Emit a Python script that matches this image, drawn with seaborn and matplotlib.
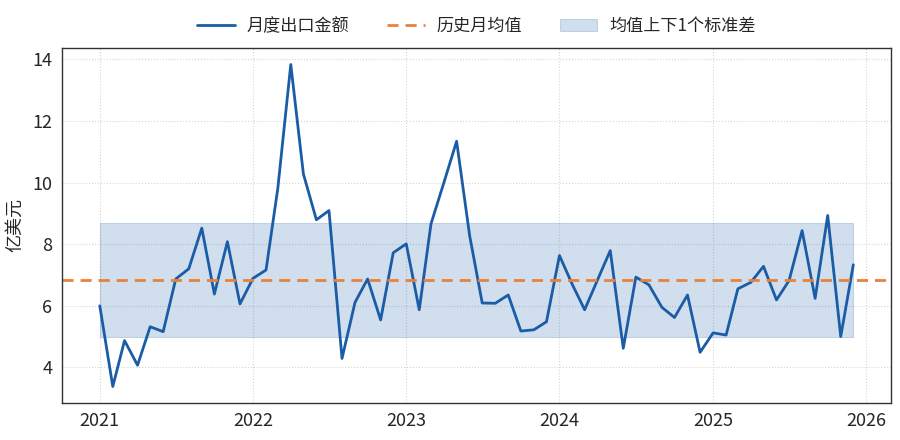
import numpy as np
import pandas as pd
import matplotlib
matplotlib.use("Agg")
import matplotlib.pyplot as plt
import matplotlib.dates as mdates
import seaborn as sns

months = pd.date_range("2021-01-01", "2025-12-01", freq="MS")
export_values = [
    6.00, 3.38, 4.87, 4.07, 5.32, 5.16, 6.87, 7.20, 8.52, 6.38, 8.08, 6.06,
    6.89, 7.16, 9.80, 13.83, 10.28, 8.79, 9.09, 4.29, 6.11, 6.87, 5.54, 7.72,
    8.01, 5.87, 8.66, 10.01, 11.34, 8.28, 6.09, 6.08, 6.35, 5.18, 5.22, 5.48,
    7.63, 6.68, 5.87, 6.85, 7.79, 4.62, 6.93, 6.68, 5.95, 5.62, 6.35, 4.49,
    5.12, 5.05, 6.55, 6.76, 7.28, 6.19, 6.82, 8.44, 6.24, 8.93, 5.00, 7.33,
]
label_line = "月度出口金额"
label_mean = "历史月均值"
label_band = "均值上下1个标准差"
y_label = "亿美元"

df = pd.DataFrame({"month": months, "value": export_values})
mean_v = float(np.mean(export_values))
std_v = float(np.std(export_values))

sns.set_theme(style="white")
plt.rcParams["font.family"] = ["Noto Sans CJK SC", "DejaVu Sans"]
plt.rcParams["axes.unicode_minus"] = False

line_color = "#1a5ca6"
mean_color = "#e8823a"

fig, ax = plt.subplots(figsize=(9, 4.4), dpi=100)
band = ax.fill_between(df["month"], mean_v - std_v, mean_v + std_v,
                       color=line_color, alpha=0.2, linewidth=0.8,
                       edgecolor=line_color, label=label_band)
sns.lineplot(data=df, x="month", y="value", ax=ax, color=line_color,
             linewidth=2, label=label_line)
ax.axhline(mean_v, color=mean_color, linestyle=(0, (4, 2.5)), linewidth=2,
           label=label_mean)

ax.xaxis.set_major_locator(mdates.YearLocator())
ax.xaxis.set_major_formatter(mdates.DateFormatter("%Y"))
ax.set_yticks([4, 6, 8, 10, 12, 14])
ax.tick_params(axis="both", labelsize=13, length=4, color="#333333", pad=3)
ax.set_xlabel("")
ax.set_ylabel(y_label, fontsize=13, labelpad=6)
ax.grid(True, linestyle=":", color="#d5d5d5", linewidth=0.8)
for s in ax.spines.values():
    s.set_color("#333333")
    s.set_linewidth(1.0)

handles, labels = ax.get_legend_handles_labels()
order = [labels.index(label_line), labels.index(label_mean), labels.index(label_band)]
ax.legend([handles[i] for i in order], [labels[i] for i in order],
          loc="lower center", bbox_to_anchor=(0.5, 0.995), ncol=3,
          frameon=False, fontsize=12.3, handlelength=2.2, handletextpad=0.7,
          columnspacing=2.2)

fig.subplots_adjust(left=0.069, right=0.99, top=0.89, bottom=0.085)
fig.savefig("out.png", dpi=100)
